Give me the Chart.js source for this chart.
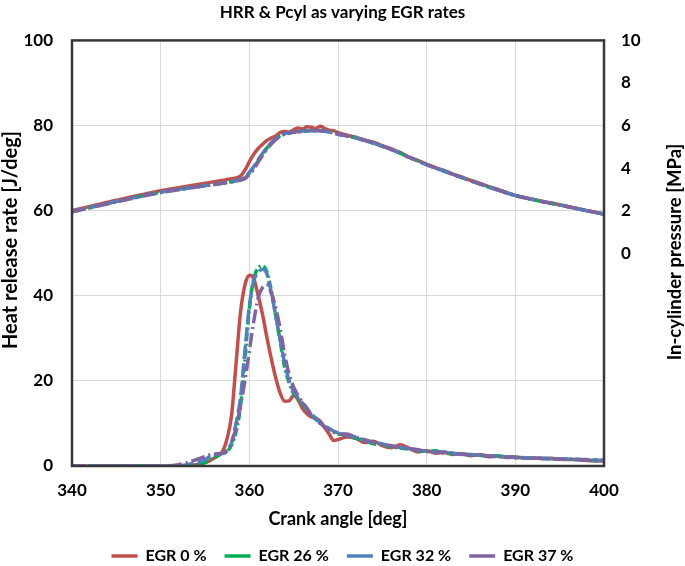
<!DOCTYPE html>
<html>
<head>
<meta charset="utf-8">
<script src="https://cdn.jsdelivr.net/npm/chart.js@4"></script>
<style>
  html, body { margin: 0; padding: 0; background: #fff; }
  canvas { display: block; }
</style>
</head>
<body>
<canvas id="grafik" width="685" height="566"></canvas>
<script>
// crank angle [deg]
const angles = [340, 345, 350, 352, 353, 354,
  355, 355.5, 356, 356.5, 357, 357.5, 358, 358.5, 359, 359.5, 360, 360.5, 361, 361.5, 362, 362.5,
  363, 363.5, 364, 364.5, 365, 365.5, 366, 366.5, 367, 367.5, 368, 368.5, 369, 369.5, 370,
  371, 372, 373, 374, 375, 376, 377, 378, 379, 380, 381, 382, 383, 384, 385,
  386, 387, 388, 389, 390, 391, 392, 393, 394, 395, 396, 397, 398, 399, 400];

const seriesNames = ['EGR 0 %', 'EGR 26 %', 'EGR 32 %', 'EGR 37 %'];

// heat release rate [J/deg]
const hrrEgr0 = [0, 0, 0, 0, 0, 0.3,
  0.8, 1.2, 1.8, 2.5, 3.5, 6.5, 12, 24, 36, 42.5, 44.8, 44, 40, 35.5, 30, 25,
  20.5, 17, 15.2, 15.3, 16.6, 15.5, 13.5, 12.3, 11.5, 11.2, 10.5, 9, 7.5, 6, 6.2,
  6.8, 6.5, 5.5, 5.8, 4.8, 4.3, 5.0, 4.2, 3.3, 3.6, 3.0, 3.2, 2.7, 2.9, 2.4,
  2.7, 2.2, 2.3, 2.0, 2.1, 1.9, 1.9, 1.7, 1.8, 1.6, 1.5, 1.5, 1.3, 1.2, 1.2];
const hrrEgr26 = [0, 0, 0, 0, 0, 0.2,
  0.8, 1.3, 2, 2.5, 3, 3.4, 5, 8, 14, 25, 37, 44, 46.5, 47, 45.5, 41,
  35, 29, 23, 19.5, 17, 15.8, 14.5, 13.2, 12, 11, 10, 9.3, 8.6, 8, 7.5,
  7.3, 6.5, 6, 5.2, 5, 4.5, 4.2, 4.0, 3.6, 3.4, 3.6, 3.0, 2.9, 2.8, 2.6,
  2.5, 2.3, 2.4, 2.1, 2.0, 2.0, 1.8, 1.8, 1.7, 1.6, 1.6, 1.5, 1.4, 1.3, 1.3];
const hrrEgr32 = [0, 0, 0, 0, 0.3, 0.8,
  1.5, 2.2, 2.6, 2.8, 3.0, 3.5, 5.5, 10, 16, 27, 37.5, 43.5, 45.5, 46.2, 45, 40.5,
  35, 29.5, 24, 20, 17.5, 16, 14.8, 13.5, 12.3, 11.2, 10.2, 9.5, 8.8, 8.2, 7.8,
  7.2, 6.8, 6.0, 5.5, 5.2, 4.7, 4.4, 4.0, 3.7, 3.5, 3.3, 3.2, 3.0, 2.7, 2.7,
  2.5, 2.4, 2.3, 2.2, 2.0, 1.9, 1.9, 1.8, 1.7, 1.7, 1.6, 1.5, 1.5, 1.4, 1.3];
const hrrEgr37 = [0, 0, 0, 0.3, 0.8, 1.5,
  2.2, 2.6, 2.8, 2.9, 3.0, 3.8, 5.5, 9, 14, 20, 27, 34, 39.5, 42, 42.5, 40.5,
  37, 32, 26, 21.5, 18.5, 16.5, 15, 13.5, 12, 11, 10, 9.2, 8.5, 8, 7.5,
  7.5, 6.8, 6.2, 5.6, 5.0, 4.8, 4.3, 4.1, 3.8, 3.4, 3.2, 3.3, 3.0, 2.8, 2.6,
  2.6, 2.4, 2.2, 2.2, 2.0, 1.9, 1.8, 1.8, 1.7, 1.6, 1.6, 1.5, 1.4, 1.4, 1.3];

// in-cylinder pressure [MPa]
const pEgr0 = [2.00, 2.49, 2.94, 3.08, 3.15, 3.22,
  3.29, 3.32, 3.36, 3.39, 3.43, 3.46, 3.50, 3.54, 3.62, 3.90, 4.30, 4.65, 4.92, 5.12, 5.30, 5.42,
  5.52, 5.68, 5.72, 5.70, 5.80, 5.88, 5.84, 5.94, 5.92, 5.86, 5.96, 5.86, 5.78, 5.76, 5.66,
  5.55, 5.45, 5.32, 5.22, 5.05, 4.90, 4.74, 4.52, 4.36, 4.18, 4.02, 3.88, 3.72, 3.57, 3.42,
  3.28, 3.13, 3.00, 2.85, 2.72, 2.62, 2.53, 2.44, 2.36, 2.28, 2.19, 2.10, 2.01, 1.92, 1.84];
const pEgr26 = [1.95, 2.42, 2.86, 2.99, 3.05, 3.11,
  3.17, 3.20, 3.23, 3.26, 3.29, 3.32, 3.36, 3.40, 3.45, 3.52, 3.75, 4.00, 4.35, 4.65, 4.95, 5.18,
  5.38, 5.52, 5.60, 5.64, 5.68, 5.70, 5.72, 5.74, 5.76, 5.76, 5.77, 5.74, 5.70, 5.66, 5.60,
  5.52, 5.42, 5.30, 5.18, 5.03, 4.88, 4.70, 4.50, 4.34, 4.16, 4.00, 3.86, 3.70, 3.55, 3.40,
  3.26, 3.11, 2.98, 2.84, 2.71, 2.61, 2.52, 2.43, 2.35, 2.27, 2.18, 2.09, 2.00, 1.92, 1.84];
const pEgr32 = [1.96, 2.43, 2.87, 3.00, 3.06, 3.12,
  3.18, 3.21, 3.24, 3.27, 3.30, 3.33, 3.37, 3.41, 3.47, 3.56, 3.80, 4.06, 4.40, 4.70, 4.98, 5.20,
  5.40, 5.54, 5.62, 5.66, 5.70, 5.72, 5.74, 5.75, 5.77, 5.77, 5.76, 5.73, 5.69, 5.65, 5.59,
  5.51, 5.42, 5.30, 5.17, 5.02, 4.87, 4.70, 4.51, 4.34, 4.16, 4.00, 3.85, 3.70, 3.55, 3.40,
  3.25, 3.11, 2.97, 2.84, 2.71, 2.61, 2.52, 2.43, 2.35, 2.27, 2.18, 2.09, 2.00, 1.92, 1.83];
const pEgr37 = [1.94, 2.41, 2.85, 2.98, 3.05, 3.11,
  3.17, 3.20, 3.23, 3.26, 3.29, 3.32, 3.35, 3.39, 3.44, 3.50, 3.70, 3.95, 4.28, 4.60, 4.90, 5.14,
  5.35, 5.50, 5.60, 5.65, 5.69, 5.71, 5.73, 5.75, 5.76, 5.76, 5.76, 5.73, 5.70, 5.66, 5.60,
  5.52, 5.42, 5.30, 5.18, 5.03, 4.88, 4.71, 4.51, 4.34, 4.17, 4.01, 3.86, 3.70, 3.55, 3.40,
  3.26, 3.11, 2.98, 2.84, 2.71, 2.61, 2.52, 2.43, 2.35, 2.27, 2.18, 2.09, 2.00, 1.92, 1.84];

const hrrData = [hrrEgr0, hrrEgr26, hrrEgr32, hrrEgr37];
const pData = [pEgr0, pEgr26, pEgr32, pEgr37];

const warna = ['#C0504D', '#00B050', '#4F81BD', '#8064A2'];
const garis = [[], [8, 3, 2, 3], [14, 4], [14, 4, 2, 4]];

const FONT = 'Lato, "Open Sans", sans-serif';
Chart.defaults.font.family = FONT;
Chart.defaults.color = '#000';

function toPoints(arr) {
  return angles.map((a, i) => ({ x: a, y: arr[i] }));
}

const datasets = [];
seriesNames.forEach((nama, i) => {
  datasets.push({
    label: nama,
    data: toPoints(hrrData[i]),
    yAxisID: 'yHrr',
    borderColor: warna[i],
    backgroundColor: warna[i],
    borderDash: garis[i],
    borderWidth: 3.5,
    pointRadius: 0,
    cubicInterpolationMode: 'monotone',
    order: 10 - i
  });
});
seriesNames.forEach((nama, i) => {
  datasets.push({
    label: nama + ' p',
    data: toPoints(pData[i]),
    yAxisID: 'yP',
    borderColor: warna[i],
    backgroundColor: warna[i],
    borderDash: garis[i],
    borderWidth: 3.5,
    pointRadius: 0,
    cubicInterpolationMode: 'monotone',
    order: 10 - i
  });
});

// kotak area plot + judul kedua sumbu y
const bingkai = {
  id: 'bingkai',
  afterDraw(chart) {
    const { ctx, chartArea: a } = chart;
    ctx.save();
    ctx.strokeStyle = '#383838';
    ctx.lineWidth = 2.5;
    ctx.strokeRect(a.left, a.top, a.right - a.left, a.bottom - a.top);
    ctx.fillStyle = '#000';
    ctx.textAlign = 'center';
    ctx.textBaseline = 'middle';

    ctx.save();
    ctx.translate(11, 240);
    ctx.rotate(-Math.PI / 2);
    ctx.font = 'bold 20px ' + FONT;
    ctx.fillText('Heat release rate [J/deg]', 0, 0);
    ctx.restore();

    ctx.translate(675, 252);
    ctx.rotate(-Math.PI / 2);
    ctx.font = 'bold 18.5px ' + FONT;
    ctx.fillText('In-cylinder pressure [MPa]', 0, 0);
    ctx.restore();
  }
};

new Chart(document.getElementById('grafik'), {
  type: 'line',
  data: { datasets },
  options: {
    responsive: false,
    animation: false,
    devicePixelRatio: 1,
    layout: { padding: { left: 0, right: 0, top: 0, bottom: -8 } },
    plugins: {
      title: {
        display: true,
        text: 'HRR & Pcyl as varying EGR rates',
        font: { size: 17, weight: 'bold' },
        padding: { top: 2, bottom: 18 }
      },
      legend: {
        position: 'bottom',
        labels: {
          filter: item => item.datasetIndex < 4,
          sort: (a, b) => a.datasetIndex - b.datasetIndex,
          usePointStyle: true,
          pointStyle: 'line',
          pointStyleWidth: 26,
          boxHeight: 10,
          padding: 18,
          font: { size: 16, weight: 'bold' },
          color: '#000'
        }
      },
      tooltip: { enabled: false }
    },
    scales: {
      x: {
        type: 'linear',
        min: 340,
        max: 400,
        ticks: { stepSize: 10, padding: 14, font: { size: 17, weight: 'bold' } },
        grid: { color: '#d9d9d9', drawTicks: false },
        border: { display: false },
        title: {
          display: true,
          text: 'Crank angle [deg]',
          font: { size: 18, weight: 'bold' },
          padding: { top: 0, bottom: 0 }
        },
        afterFit: s => { s.height = 64; }
      },
      yHrr: {
        position: 'left',
        min: 0,
        max: 100,
        ticks: { stepSize: 20, padding: 19, font: { size: 17, weight: 'bold' } },
        grid: { color: '#d9d9d9', drawTicks: false },
        border: { display: false },
        afterFit: s => { s.width = 72; }
      },
      yP: {
        position: 'right',
        min: -10,
        max: 10,
        ticks: {
          stepSize: 2,
          padding: 17,
          font: { size: 17, weight: 'bold' },
          callback: v => (v >= 0 ? v : '')
        },
        grid: { drawOnChartArea: false, drawTicks: false },
        border: { display: false },
        afterFit: s => { s.width = 81; }
      }
    }
  },
  plugins: [bingkai]
});
</script>
</body>
</html>
